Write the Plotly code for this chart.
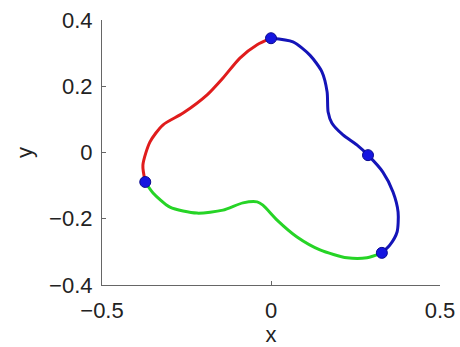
import plotly.graph_objects as go

# Curve segments (x, y) traced around the closed loop
red_x = [-0.372, -0.379, -0.358, -0.320, -0.260, -0.189, -0.142, -0.092, -0.041, 0.000]
red_y = [-0.089, -0.038, 0.032, 0.083, 0.119, 0.174, 0.225, 0.285, 0.325, 0.345]

blue_x = [0.000, 0.065, 0.115, 0.151, 0.166, 0.169, 0.180, 0.213, 0.254, 0.287,
          0.331, 0.361, 0.376, 0.373, 0.352, 0.328]
blue_y = [0.345, 0.334, 0.294, 0.243, 0.183, 0.122, 0.089, 0.053, 0.023, -0.008,
          -0.059, -0.119, -0.180, -0.240, -0.279, -0.303]

green_x = [0.328, 0.284, 0.225, 0.145, 0.077, 0.018, -0.024, -0.041, -0.083,
           -0.142, -0.219, -0.299, -0.349, -0.372]
green_y = [-0.303, -0.318, -0.318, -0.294, -0.255, -0.204, -0.159, -0.149, -0.152,
           -0.174, -0.183, -0.165, -0.122, -0.089]

# Marked points on the loop
dot_x = [0.000, 0.287, 0.328, -0.372]
dot_y = [0.345, -0.008, -0.303, -0.089]

x_ticks = [-0.5, 0, 0.5]
y_ticks = [-0.4, -0.2, 0, 0.2, 0.4]

FONT = "Liberation Sans, Arial, sans-serif"

fig = go.Figure()
for xs, ys, col in [(red_x, red_y, "#e01c1c"),
                    (blue_x, blue_y, "#1414b8"),
                    (green_x, green_y, "#26d426")]:
    fig.add_trace(go.Scatter(x=xs, y=ys, mode="lines",
                             line=dict(color=col, width=3, shape="spline", smoothing=0.7),
                             showlegend=False, hoverinfo="skip"))

fig.add_trace(go.Scatter(x=dot_x, y=dot_y, mode="markers",
                         marker=dict(color="#1515e0", size=11,
                                     line=dict(color="#0a0a90", width=1)),
                         showlegend=False))

axis_common = dict(showgrid=False, zeroline=False, showline=True,
                   linecolor="#666666", linewidth=1.2, ticks="inside",
                   ticklen=4, tickcolor="#666666", mirror=False, automargin=False,
                   tickfont=dict(family=FONT, size=22, color="#222222"))

fig.update_xaxes(range=[-0.5, 0.5], tickvals=x_ticks,
                 ticktext=["\u22120.5", "0", "0.5"], ticklabelstandoff=5,
                 title=dict(text="x", standoff=11,
                            font=dict(family=FONT, size=22, color="#222222")),
                 **axis_common)
fig.update_yaxes(range=[-0.4, 0.4], tickvals=y_ticks,
                 ticktext=["\u22120.4", "\u22120.2", "0", "0.2", "0.4"],
                 ticklabelstandoff=4,
                 title=dict(text="y", standoff=10,
                            font=dict(family=FONT, size=22, color="#222222")),
                 **axis_common)

fig.update_layout(width=460, height=347,
                  margin=dict(l=102, r=20, t=20, b=62),
                  plot_bgcolor="white", paper_bgcolor="white")

fig.write_html("out.html")
